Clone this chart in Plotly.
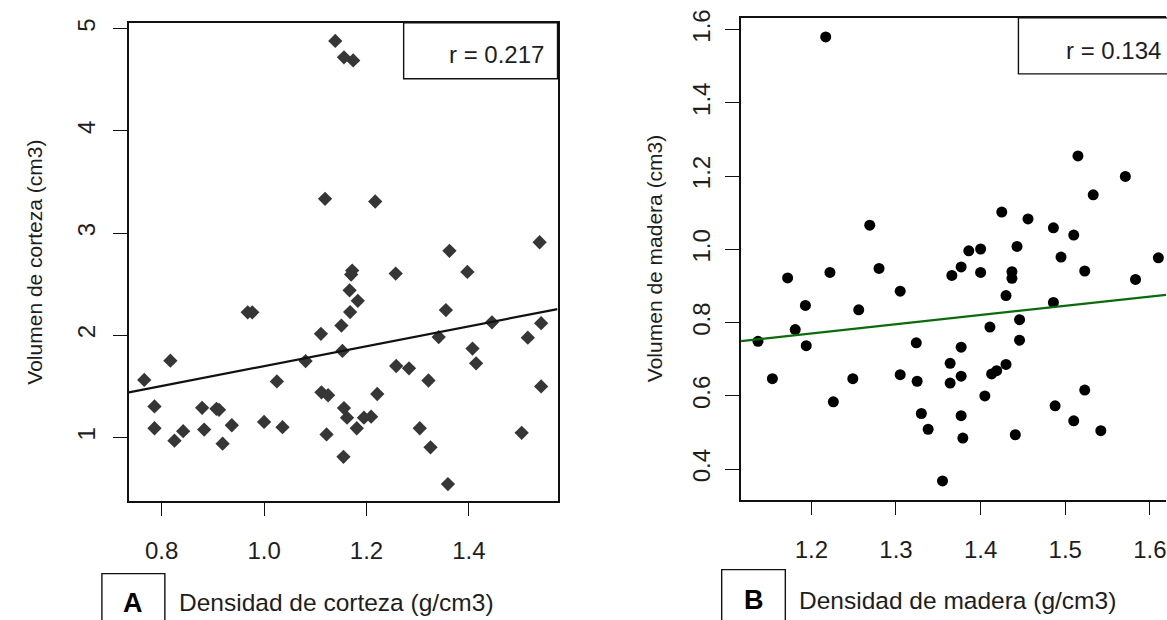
import plotly.graph_objects as go

# ---------------- data ----------------
corteza_dens = [1.139, 1.156, 1.174, 1.119, 1.217, 1.362, 1.538, 0.968, 0.977, 0.817,
                0.766, 0.786, 0.786, 0.825, 0.842, 0.879, 0.883, 0.907, 0.912, 0.919,
                0.937, 1.000, 1.036, 1.025, 1.081, 1.111, 1.151, 1.112, 1.125, 1.122,
                1.155, 1.172, 1.170, 1.167, 1.183, 1.168, 1.153, 1.257, 1.397, 1.355,
                1.341, 1.445, 1.541, 1.515, 1.407, 1.414, 1.258, 1.283, 1.321, 1.541,
                1.221, 1.156, 1.162, 1.195, 1.209, 1.181, 1.304, 1.325, 1.359, 1.503]
corteza_vol = [4.881, 4.720, 4.690, 3.335, 3.309, 2.826, 2.910, 2.224, 2.224, 1.751,
               1.563, 1.303, 1.090, 0.968, 1.061, 1.290, 1.077, 1.280, 1.270, 0.939,
               1.119, 1.152, 1.100, 1.548, 1.747, 2.014, 2.095, 1.441, 1.413, 1.029,
               0.810, 2.633, 2.594, 2.440, 2.337, 2.227, 1.847, 2.604, 2.620, 2.246,
               1.982, 2.127, 2.118, 1.976, 1.870, 1.725, 1.699, 1.676, 1.557, 1.499,
               1.425, 1.287, 1.193, 1.193, 1.203, 1.090, 1.090, 0.903, 0.543, 1.045]

madera_dens = [1.217, 1.269, 1.515, 1.571, 1.533, 1.425, 1.456, 1.486, 1.510, 1.386,
               1.400, 1.443, 1.495, 1.610, 1.172, 1.222, 1.280, 1.305, 1.366, 1.193,
               1.256, 1.181, 1.137, 1.194, 1.324, 1.154, 1.249, 1.305, 1.325, 1.364,
               1.364, 1.226, 1.330, 1.338, 1.355, 1.377, 1.400, 1.437, 1.437, 1.523,
               1.583, 1.430, 1.486, 1.411, 1.446, 1.446, 1.377, 1.377, 1.413, 1.419,
               1.430, 1.405, 1.377, 1.379, 1.441, 1.523, 1.488, 1.510, 1.542]
madera_vol = [1.580, 1.066, 1.255, 1.199, 1.149, 1.102, 1.083, 1.059, 1.039, 0.996,
              1.001, 1.008, 0.979, 0.977, 0.922, 0.937, 0.948, 0.886, 0.929, 0.847,
              0.835, 0.781, 0.749, 0.737, 0.745, 0.647, 0.647, 0.658, 0.640, 0.689,
              0.635, 0.584, 0.552, 0.509, 0.368, 0.952, 0.937, 0.939, 0.921, 0.941,
              0.918, 0.874, 0.855, 0.788, 0.808, 0.752, 0.733, 0.654, 0.660, 0.669,
              0.686, 0.600, 0.546, 0.485, 0.494, 0.616, 0.573, 0.532, 0.505]

# fitted lines (intercept, slope)
fit_corteza = [0.724, 0.974]
fit_madera = [0.468, 0.252]
r_values = ["0.217", "0.134"]

xticks_a = [0.8, 1.0, 1.2, 1.4]
xtick_text_a = ["0.8", "1.0", "1.2", "1.4"]
yticks_a = [1, 2, 3, 4, 5]
ytick_text_a = ["1", "2", "3", "4", "5"]
xticks_b = [1.2, 1.3, 1.4, 1.5, 1.6]
xtick_text_b = ["1.2", "1.3", "1.4", "1.5", "1.6"]
yticks_b = [0.4, 0.6, 0.8, 1.0, 1.2, 1.4, 1.6]
ytick_text_b = ["0.4", "0.6", "0.8", "1.0", "1.2", "1.4", "1.6"]

range_xa = [0.736, 1.573]
range_ya = [0.382, 5.058]
range_xb = [1.117, 1.619]
range_yb = [0.317, 1.632]

# ---------------- figure ----------------
W, H = 1167, 620
FONT = "Liberation Sans, Arial, sans-serif"
TXT = "#1e1e1e"

fig = go.Figure()

fig.add_trace(go.Scatter(
    x=corteza_dens, y=corteza_vol, mode="markers", xaxis="x", yaxis="y",
    marker=dict(symbol="diamond", size=11, color="#363636", line=dict(width=0)),
    showlegend=False))
fig.add_trace(go.Scatter(
    x=range_xa, y=[fit_corteza[0] + fit_corteza[1] * v for v in range_xa],
    mode="lines", xaxis="x", yaxis="y",
    line=dict(color="#111111", width=2.2), showlegend=False))

fig.add_trace(go.Scatter(
    x=madera_dens, y=madera_vol, mode="markers", xaxis="x2", yaxis="y2",
    marker=dict(symbol="circle", size=11, color="#000000", line=dict(width=0)),
    showlegend=False))
fig.add_trace(go.Scatter(
    x=range_xb, y=[fit_madera[0] + fit_madera[1] * v for v in range_xb],
    mode="lines", xaxis="x2", yaxis="y2",
    line=dict(color="#0b6b0b", width=2.2), showlegend=False))

axis_common = dict(
    showgrid=False, zeroline=False, showline=True, linecolor="#111111", linewidth=1.6,
    ticks="outside", ticklen=14, tickwidth=1.4, tickcolor="#111111",
    tickfont=dict(family=FONT, size=24, color=TXT), ticklabeloverflow="allow",
)

fig.update_layout(
    width=W, height=H, margin=dict(l=0, r=0, t=0, b=0),
    paper_bgcolor="white", plot_bgcolor="white",
    xaxis=dict(domain=[129 / W, 558 / W], range=range_xa, tickvals=xticks_a,
               ticktext=xtick_text_a, mirror=True, anchor="y",
               ticklabelstandoff=14, **axis_common),
    yaxis=dict(domain=[(H - 499) / H, (H - 15) / H], range=range_ya, tickvals=yticks_a,
               ticktext=ytick_text_a, mirror=True, anchor="x", tickangle=-90,
               ticklabelstandoff=8, **axis_common),
    xaxis2=dict(domain=[741.7 / W, 1.0], range=range_xb, tickvals=xticks_b,
                ticktext=xtick_text_b, mirror=True, anchor="y2",
                ticklabelstandoff=14, **axis_common),
    yaxis2=dict(domain=[(H - 498) / H, (H - 10) / H], range=range_yb, tickvals=yticks_b,
                ticktext=ytick_text_b, mirror=False, anchor="x2", tickangle=-90,
                ticklabelstandoff=6, **axis_common),
)

shapes = [
    # r legend boxes
    dict(type="rect", xref="x domain", yref="y domain", x0=(404 - 129) / 429, x1=1.0,
         y0=(499 - 71.7) / 484, y1=1.0, line=dict(color="#111111", width=1.4)),
    dict(type="rect", xref="x2 domain", yref="y2 domain", x0=(1019.3 - 741.7) / 425.3,
         x1=1.08, y0=(498 - 66.7) / 488, y1=1.0, line=dict(color="#111111", width=1.4)),
    # panel letter boxes
    dict(type="rect", xref="paper", yref="paper", x0=102 / W, x1=165 / W,
         y0=-0.1, y1=(H - 573) / H, line=dict(color="#111111", width=1.4)),
    dict(type="rect", xref="paper", yref="paper", x0=722.3 / W, x1=786 / W,
         y0=-0.1, y1=(H - 569) / H, line=dict(color="#111111", width=1.4)),
]
fig.update_layout(shapes=shapes)

ann = [
    dict(text="r = " + r_values[0], xref="x domain", yref="y domain",
         x=(546 - 129) / 429, y=(499 - 46.7) / 484, xanchor="right", yanchor="middle",
         showarrow=False, font=dict(family=FONT, size=24, color=TXT)),
    dict(text="r = " + r_values[1], xref="x2 domain", yref="y2 domain",
         x=(1065 - 741.7) / 425.3, y=(498 - 43.3) / 488, xanchor="left", yanchor="middle",
         showarrow=False, font=dict(family=FONT, size=24, color=TXT)),
    dict(text="Volumen de corteza (cm3)", xref="paper", yref="paper",
         x=35 / W, y=(H - 257) / H, textangle=-90, xanchor="center", yanchor="middle",
         showarrow=False, font=dict(family=FONT, size=21, color=TXT)),
    dict(text="Volumen de madera (cm3)", xref="paper", yref="paper",
         x=655 / W, y=(H - 254) / H, textangle=-90, xanchor="center", yanchor="middle",
         showarrow=False, font=dict(family=FONT, size=21, color=TXT)),
    dict(text="<b>A</b>", xref="paper", yref="paper", x=133.5 / W, y=(H - 603) / H,
         xanchor="center", yanchor="middle", showarrow=False,
         font=dict(family=FONT, size=27, color="#000000")),
    dict(text="<b>B</b>", xref="paper", yref="paper", x=755 / W, y=(H - 600) / H,
         xanchor="center", yanchor="middle", showarrow=False,
         font=dict(family=FONT, size=27, color="#000000")),
    dict(text="Densidad de corteza (g/cm3)", xref="paper", yref="paper",
         x=177 / W, y=(H - 602) / H, xanchor="left", yanchor="middle", showarrow=False,
         font=dict(family=FONT, size=24.5, color=TXT)),
    dict(text="Densidad de madera (g/cm3)", xref="paper", yref="paper",
         x=798 / W, y=(H - 600) / H, xanchor="left", yanchor="middle", showarrow=False,
         font=dict(family=FONT, size=24.5, color=TXT)),
]
fig.update_layout(annotations=ann)

fig.write_html("out.html")
